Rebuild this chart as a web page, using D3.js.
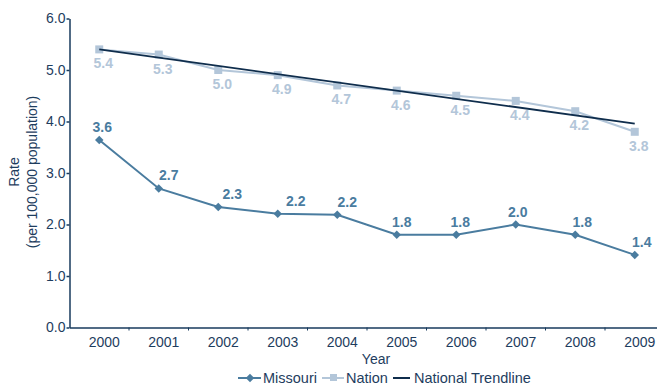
<!DOCTYPE html>
<html><head><meta charset="utf-8">
<script src="https://cdn.jsdelivr.net/npm/d3@7"></script>
<style>body{margin:0;background:#fff}svg{display:block;font-family:"Liberation Sans",Arial,sans-serif}</style>
</head><body><svg id="c" width="657" height="386"></svg>
<script>
const years = ["2000","2001","2002","2003","2004","2005","2006","2007","2008","2009"];
const missouri = [3.64, 2.70, 2.34, 2.21, 2.19, 1.80, 1.80, 2.00, 1.80, 1.41];
const nation = [5.4, 5.3, 5.0, 4.9, 4.7, 4.6, 4.5, 4.4, 4.2, 3.8];
const trendYears = ["2000","2009"];
const trendValues = [5.40, 3.96];
const yTicks = [0,1,2,3,4,5,6];
const missouriLabelDx = [3, 10, 14, 18, 10, 5, 4, 2, 7, 7];

const C = {missouri:"#4a7c9f", nation:"#b3c6d9", trend:"#0f2d4c", axis:"#173a5c", text:"#1e3d5e"};
const FS = 14;
const svg = d3.select("#c");
const x = d3.scaleBand().domain(years).range([69.5, 664.5]);
const y = d3.scaleLinear().domain([0,6]).range([327.5, 18.5]);
const cx = d => x(d) + x.bandwidth()/2;

const yAx = svg.append("g").attr("transform","translate(69.5,0)")
  .call(d3.axisLeft(y).tickValues(yTicks).tickFormat(d3.format(".1f")).tickSize(3).tickPadding(1).tickSizeOuter(0));
const xAx = svg.append("g").attr("transform","translate(0,327.5)")
  .call(d3.axisBottom(x).tickSize(0).tickPadding(10).tickSizeOuter(0));
[yAx,xAx].forEach(g=>{
  g.selectAll("path,line").attr("stroke",C.axis).attr("stroke-width",1.5);
  g.selectAll("text").attr("fill",C.text).attr("font-size",FS).attr("font-family","Liberation Sans, Arial, sans-serif");
});
xAx.selectAll("text").attr("dx",5);
xAx.selectAll(".bt").data(years.slice(1)).enter().append("line")
  .attr("x1",d=>x(d)).attr("x2",d=>x(d)).attr("y1",0).attr("y2",3)
  .attr("stroke",C.axis).attr("stroke-width",1);

svg.append("text").attr("transform","translate(19,172) rotate(-90)").attr("text-anchor","middle")
  .attr("fill",C.text).attr("font-size",FS).text("Rate");
svg.append("text").attr("transform","translate(37,172) rotate(-90)").attr("text-anchor","middle")
  .attr("fill",C.text).attr("font-size",FS).text("(per 100,000 population)");
svg.append("text").attr("x",376).attr("y",364).attr("text-anchor","middle")
  .attr("fill",C.text).attr("font-size",FS).text("Year");

const line = d3.line().x(d=>cx(d.y)).y(d=>y(d.v));
const nd = years.map((yy,i)=>({y:yy,v:nation[i]}));
const md = years.map((yy,i)=>({y:yy,v:missouri[i]}));
const td = trendYears.map((yy,i)=>({y:yy,v:trendValues[i]}));

svg.append("path").datum(nd).attr("d",line).attr("fill","none").attr("stroke",C.nation).attr("stroke-width",2);
svg.selectAll(".ns").data(nd).enter().append("rect")
  .attr("x",d=>cx(d.y)-4).attr("y",d=>y(d.v)-4).attr("width",8).attr("height",8).attr("fill",C.nation);
svg.append("path").datum(td).attr("d",line).attr("fill","none").attr("stroke",C.trend).attr("stroke-width",1.8);
svg.append("path").datum(md).attr("d",line).attr("fill","none").attr("stroke",C.missouri).attr("stroke-width",2);
const diamond = d3.symbol().type(d3.symbolSquare).size(36);
svg.selectAll(".ms").data(md).enter().append("path").attr("d",diamond)
  .attr("transform",d=>`translate(${cx(d.y)},${y(d.v)}) rotate(45)`).attr("fill",C.missouri);

svg.selectAll(".nl").data(nd).enter().append("text")
  .attr("x",d=>cx(d.y)+4).attr("y",d=>y(d.v)+19).attr("text-anchor","middle")
  .attr("font-size",FS).attr("font-weight","bold").attr("fill",C.nation).text(d=>d3.format(".1f")(d.v));
svg.selectAll(".ml").data(md).enter().append("text")
  .attr("x",(d,i)=>cx(d.y)+missouriLabelDx[i]).attr("y",d=>y(d.v)-8).attr("text-anchor","middle")
  .attr("font-size",FS).attr("font-weight","bold").attr("fill",C.missouri).text(d=>d3.format(".1f")(d.v));

const lg = svg.append("g");
const ly = 378;
lg.append("line").attr("x1",238).attr("x2",261).attr("y1",ly).attr("y2",ly).attr("stroke",C.missouri).attr("stroke-width",2);
lg.append("path").attr("d",diamond).attr("transform",`translate(250,${ly}) rotate(45)`).attr("fill",C.missouri);
lg.append("text").attr("x",263).attr("y",383).attr("font-size",FS+0.5).attr("fill",C.text).text("Missouri");
lg.append("line").attr("x1",322).attr("x2",344).attr("y1",ly).attr("y2",ly).attr("stroke",C.nation).attr("stroke-width",2);
lg.append("rect").attr("x",330).attr("y",ly-4).attr("width",7).attr("height",7).attr("fill",C.nation);
lg.append("text").attr("x",346).attr("y",383).attr("font-size",FS+0.5).attr("fill",C.text).text("Nation");
lg.append("line").attr("x1",393).attr("x2",410).attr("y1",ly).attr("y2",ly).attr("stroke",C.trend).attr("stroke-width",2);
lg.append("text").attr("x",414).attr("y",383).attr("font-size",FS+0.5).attr("fill",C.text).text("National Trendline");
</script></body></html>
